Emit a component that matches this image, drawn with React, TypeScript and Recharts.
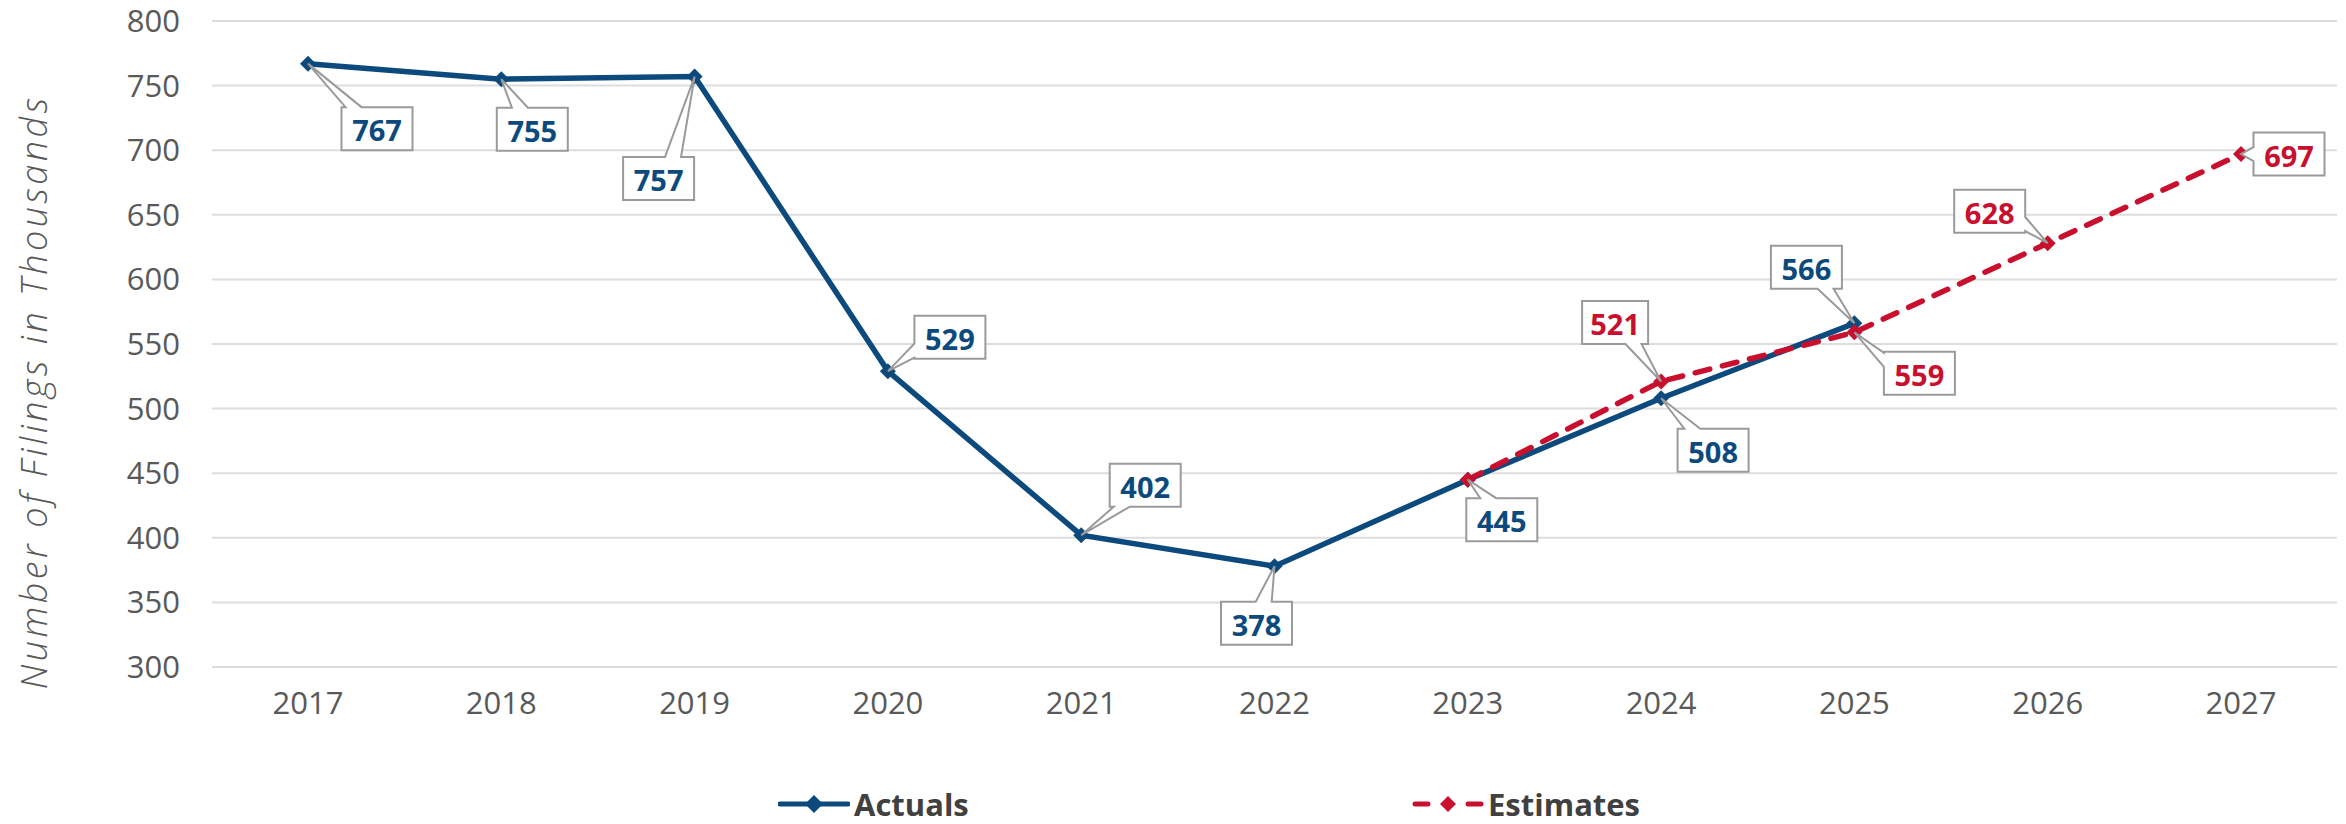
import { LineChart, Line, XAxis, YAxis, CartesianGrid, Legend, LabelList } from 'recharts';

const years = ['2017', '2018', '2019', '2020', '2021', '2022', '2023', '2024', '2025', '2026', '2027'];
const actuals = [767, 755, 757, 529, 402, 378, 445, 508, 566, null, null];
const estimates = [null, null, null, null, null, null, 445, 521, 559, 628, 697];
const yTicks = [300, 350, 400, 450, 500, 550, 600, 650, 700, 750, 800];

const data = years.map((year, i) => ({ year, actuals: actuals[i], estimates: estimates[i] }));

const BLUE = '#0C4A7E';
const RED = '#C8102E';
const FONT = '"Open Sans", sans-serif';

// where each callout box sits, relative to its point (box centre), by year index
const actualLabelOffsets: Record<number, [number, number]> = {
  0: [69, 65],
  1: [31, 50],
  2: [-36, 102],
  3: [62, -34],
  4: [64, -50],
  5: [-18, 57],
  6: [34, 40],
  7: [52, 52],
  8: [-48, -56],
};
const estimateLabelOffsets: Record<number, [number, number]> = {
  7: [-46, -59],
  8: [65, 41],
  9: [-58, -32],
  10: [48, 0],
};

const clamp = (v: number, lo: number, hi: number) => Math.max(lo, Math.min(hi, v));

function calloutPath(cx: number, cy: number, w: number, h: number, px: number, py: number) {
  const hw = w / 2;
  const hh = h / 2;
  const L = cx - hw, R = cx + hw, T = cy - hh, B = cy + hh;
  const tx = cx + px, ty = cy + py;
  const vert = Math.abs(py) - hh >= 0.8 * (Math.abs(px) - hw);
  const side = vert ? (py < 0 ? 'top' : 'bottom') : (px < 0 ? 'left' : 'right');
  const pts: number[][] = [[L, T]];
  if (side === 'top') {
    const c = clamp(cx + px * 0.4, L + 12, R - 12);
    pts.push([c - 8, T], [tx, ty], [c + 8, T]);
  }
  pts.push([R, T]);
  if (side === 'right') {
    const c = clamp(cy + py * 0.4, T + 8, B - 8);
    pts.push([R, c - 7], [tx, ty], [R, c + 7]);
  }
  pts.push([R, B]);
  if (side === 'bottom') {
    const c = clamp(cx + px * 0.4, L + 12, R - 12);
    pts.push([c + 8, B], [tx, ty], [c - 8, B]);
  }
  pts.push([L, B]);
  if (side === 'left') {
    const c = clamp(cy + py * 0.4, T + 8, B - 8);
    pts.push([L, c + 7], [tx, ty], [L, c - 7]);
  }
  return 'M' + pts.map((p) => `${p[0]},${p[1]}`).join('L') + 'Z';
}

const textWidth = (s: string) => s.split('').reduce((acc, ch) => acc + (ch === '1' ? 12 : 17), 0);

const makeLabel = (offsets: Record<number, [number, number]>, color: string) => (props: any) => {
  const { x, y, value, index } = props;
  const off = offsets[index];
  if (value == null || !off || x == null || y == null) return null;
  const cx = x + off[0];
  const cy = y + off[1];
  const w = textWidth(String(value)) + 20;
  const h = 43;
  return (
    <g>
      <path d={calloutPath(cx, cy, w, h, -off[0], -off[1])} fill="#fff" stroke="#9a9a9a" strokeWidth={2} />
      <text
        x={cx}
        y={cy + 1}
        textAnchor="middle"
        dominantBaseline="central"
        fill={color}
        fontFamily={FONT}
        fontWeight={700}
        fontSize={29}
      >
        {value}
      </text>
    </g>
  );
};

const makeDot = (color: string) => (props: any) => {
  const { cx, cy, index, value } = props;
  if (value == null || cx == null || cy == null) return <g key={`d-${index}`} />;
  const r = 8;
  return (
    <path
      key={`d-${index}`}
      d={`M${cx},${cy - r}L${cx + r},${cy}L${cx},${cy + r}L${cx - r},${cy}Z`}
      fill={color}
    />
  );
};

const YLabel = () => (
  <text
    x={33}
    y={392}
    transform="rotate(-90 33 392)"
    textAnchor="middle"
    dominantBaseline="central"
    fill="#595959"
    fontFamily={FONT}
    fontStyle="italic"
    fontWeight={300}
    fontSize={36}
    letterSpacing={3.5}
  >
    Number of Filings in Thousands
  </text>
);

const LegendContent = () => (
  <div
    style={{
      position: 'relative',
      height: 40,
      width: 2346,
      fontFamily: FONT,
      fontWeight: 700,
      fontSize: 31,
      color: '#404040',
    }}
  >
    <div style={{ position: 'absolute', left: 778, top: 0, height: 40, display: 'flex', alignItems: 'center' }}>
      <svg width={72} height={20}>
        <line x1={2} y1={10} x2={70} y2={10} stroke={BLUE} strokeWidth={5} strokeLinecap="round" />
        <path d="M36,1L45,10L36,19L27,10Z" fill={BLUE} />
      </svg>
      <span style={{ marginLeft: 4 }}>Actuals</span>
    </div>
    <div style={{ position: 'absolute', left: 1412, top: 0, height: 40, display: 'flex', alignItems: 'center' }}>
      <svg width={72} height={20}>
        <line x1={3} y1={10} x2={16} y2={10} stroke={RED} strokeWidth={5} strokeLinecap="round" />
        <line x1={56} y1={10} x2={69} y2={10} stroke={RED} strokeWidth={5} strokeLinecap="round" />
        <path d="M36,2L44,10L36,18L28,10Z" fill={RED} />
      </svg>
      <span style={{ marginLeft: 4 }}>Estimates</span>
    </div>
  </div>
);

export default function App() {
  return (
    <div style={{ position: 'absolute', left: 0, top: 0, width: 2346, height: 824, background: '#fff' }}>
      <LineChart width={2346} height={824} data={data} margin={{ top: 21, right: 9, bottom: 0, left: 0 }}>
        <CartesianGrid horizontal vertical={false} stroke="#DDDDDD" strokeWidth={2} />
        <XAxis
          dataKey="year"
          axisLine={false}
          tickLine={false}
          tickSize={0}
          tickMargin={25}
          height={117}
          padding={{ left: 96, right: 96 }}
          tick={{ fill: '#595959', fontSize: 31, fontFamily: FONT, fontWeight: 400 }}
        />
        <YAxis
          domain={[300, 800]}
          ticks={yTicks}
          axisLine={false}
          tickLine={false}
          tickSize={0}
          tickMargin={32}
          width={212}
          interval={0}
          tick={{ fill: '#595959', fontSize: 31, fontFamily: FONT, fontWeight: 400 }}
          label={{ content: () => <YLabel /> }}
        />
        <Legend verticalAlign="bottom" align="left" height={40} width={2346} wrapperStyle={{ left: 0 }} content={() => <LegendContent />} />
        <Line
          type="linear"
          dataKey="actuals"
          name="Actuals"
          stroke={BLUE}
          strokeWidth={5.5}
          dot={makeDot(BLUE)}
          activeDot={false}
          isAnimationActive={false}
        >
          <LabelList dataKey="actuals" content={makeLabel(actualLabelOffsets, BLUE)} />
        </Line>
        <Line
          type="linear"
          dataKey="estimates"
          name="Estimates"
          stroke={RED}
          strokeWidth={5.5}
          strokeDasharray="15 13"
          strokeLinecap="round"
          dot={makeDot(RED)}
          activeDot={false}
          isAnimationActive={false}
        >
          <LabelList dataKey="estimates" content={makeLabel(estimateLabelOffsets, RED)} />
        </Line>
      </LineChart>
    </div>
  );
}
